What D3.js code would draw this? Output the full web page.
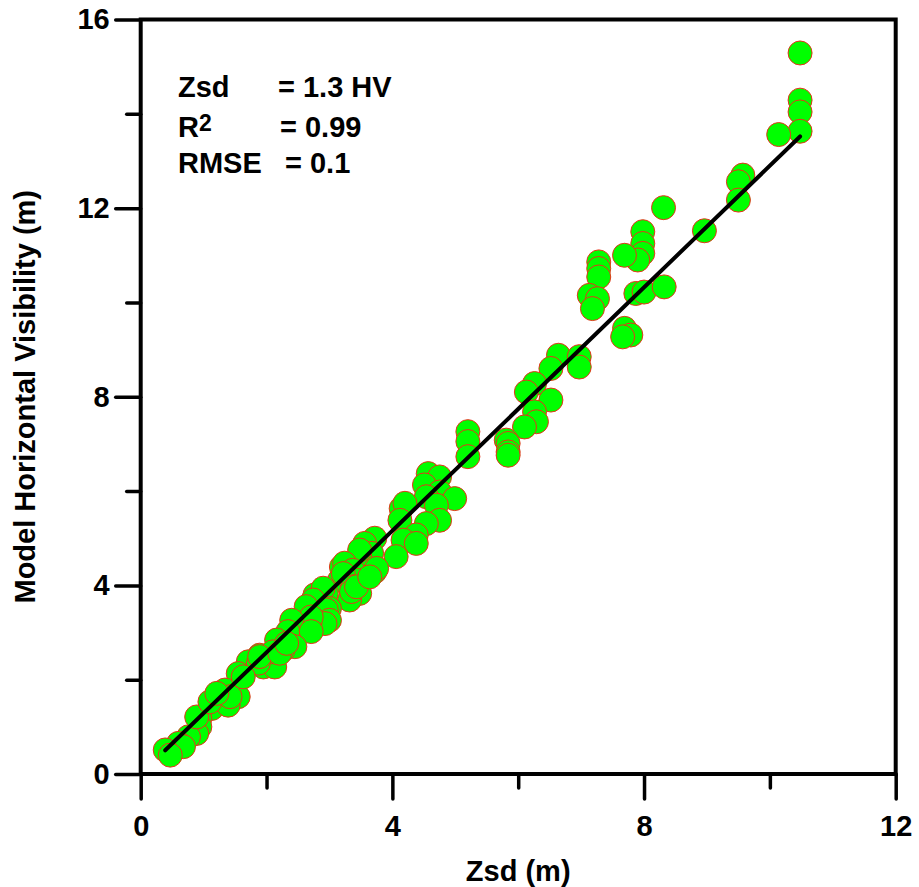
<!DOCTYPE html>
<html>
<head>
<meta charset="utf-8">
<script src="https://cdn.jsdelivr.net/npm/d3@7"></script>
<style>
  html, body { margin: 0; padding: 0; background: #fff; }
  svg { display: block; font-family: "Liberation Sans", Arial, sans-serif; }
</style>
</head>
<body>
<svg id="chart" width="919" height="887"></svg>
<script>
// Measured Secchi depth (Zsd, m) against modelled horizontal visibility (m)
const zsd = [
  10.48, 10.48, 10.48, 10.48, 10.14, 9.57, 9.50, 9.50, 8.96, 8.31,
  7.98, 7.98, 7.98, 7.90, 7.69, 7.28, 7.28, 7.28, 7.13, 7.26,
  7.18, 7.87, 8.00, 8.32, 7.69, 7.79, 7.66, 6.64, 6.97, 6.97,
  6.52, 6.26, 6.13, 6.52, 6.26, 6.29, 6.10, 5.81, 5.84, 5.84,
  5.84, 5.20, 5.20, 5.20,
  4.57, 4.75, 4.51, 4.75, 4.99, 4.54, 4.70, 4.75, 4.54, 4.14,
  4.20, 4.12, 4.38, 4.17, 4.38, 3.72, 3.56, 3.67, 3.48, 3.48,
  4.06, 3.19, 3.24, 3.37, 3.72, 3.75, 3.35, 3.16, 3.43, 3.22,
  3.48, 3.32, 3.37, 3.35, 2.95, 2.77, 2.90, 2.74, 2.63, 3.00,
  2.95, 3.00, 2.93, 2.69, 2.71, 2.40, 2.34, 2.71, 2.16, 2.45,
  2.26, 1.89, 1.95, 1.71, 1.55, 2.13, 2.10, 1.87, 1.34, 1.55,
  1.21, 1.13, 1.39, 0.94, 0.94, 0.89, 0.76, 0.60, 0.68, 0.39,
  0.47, 0.89, 1.10, 1.42, 1.21, 1.63, 1.89, 2.21, 2.32, 3.43,
  3.64
];
const hv = [
  15.29, 14.29, 14.04, 13.63, 13.56, 12.70, 12.56, 12.17, 11.52, 12.01,
  11.50, 11.25, 11.04, 10.90, 11.00, 10.86, 10.72, 10.54, 10.15, 10.08,
  9.87, 10.19, 10.22, 10.33, 9.45, 9.31, 9.27, 8.88, 8.85, 8.63,
  8.60, 8.28, 8.10, 7.93, 7.68, 7.47, 7.36, 7.08, 7.01, 6.83,
  6.76, 7.26, 7.05, 6.73,
  6.37, 6.30, 6.13, 5.98, 5.84, 5.88, 5.70, 5.38, 5.31, 5.63,
  5.74, 5.38, 5.07, 4.96, 4.89, 5.00, 4.89, 4.68, 4.61, 4.75,
  4.61, 4.39, 4.47, 4.32, 4.29, 4.36, 4.04, 4.11, 4.11, 4.25,
  3.83, 3.69, 3.97, 3.87, 3.83, 3.80, 3.94, 3.69, 3.55, 3.51,
  3.48, 3.26, 3.19, 3.19, 3.33, 3.26, 3.02, 3.02, 2.84, 2.70,
  2.63, 2.52, 2.27, 2.38, 2.13, 2.27, 2.59, 2.35, 1.78, 1.64,
  1.53, 1.39, 1.46, 1.18, 1.00, 0.86, 0.79, 0.65, 0.58, 0.51,
  0.40, 1.21, 1.53, 1.64, 1.71, 2.06, 2.49, 2.56, 2.77, 3.97,
  4.18
];

// Axis ticks and fit statistics
const xMajorTicks = [0, 4, 8, 12];
const xMinorTicks = [2, 6, 10];
const yMajorTicks = [0, 4, 8, 12, 16];
const yMinorTicks = [2, 6, 10, 14];
const fitSlope = 1.29;
const statLabels = ["Zsd", "R", "RMSE"];
const statValues = ["= 1.3 HV", "= 0.99", "= 0.1"];

const svg = d3.select("#chart");
const plotLeft = 140.7, plotRight = 895.7, plotTop = 19.5, plotBottom = 774;

const x = d3.scaleLinear().domain([0, 12]).range([plotLeft, plotRight]);
const y = d3.scaleLinear().domain([0, 16]).range([plotBottom, plotTop]);

// Scatter points
const points = zsd.map((v, i) => ({ x: v, y: hv[i] }));
svg.append("g")
  .selectAll("circle")
  .data(points)
  .join("circle")
  .attr("cx", d => x(d.x))
  .attr("cy", d => y(d.y))
  .attr("r", 12)
  .attr("fill", "#00ff00")
  .attr("stroke", "#e8321a")
  .attr("stroke-width", 1);

// Regression line through the origin
const [xMin, xMax] = d3.extent(zsd);
svg.append("path")
  .datum([xMin, xMax])
  .attr("d", d3.line().x(d => x(d)).y(d => y(fitSlope * d)))
  .attr("stroke", "#000")
  .attr("stroke-width", 4)
  .attr("stroke-linecap", "round")
  .attr("fill", "none");

// Axes: major and minor ticks on the bottom and left
function axisGroup(gen, transform) {
  const g = svg.append("g").attr("transform", transform).call(gen);
  g.select(".domain").remove();
  g.selectAll(".tick line").attr("stroke", "#000").attr("stroke-width", 3.5).attr("stroke-linecap", "round");
  return g;
}
const xAxis = axisGroup(d3.axisBottom(x).tickValues(xMajorTicks).tickSize(25).tickPadding(16).tickFormat(d3.format("d")), `translate(0,${plotBottom})`);
xAxis.selectAll("text").attr("font-size", 29).attr("font-weight", "bold").attr("fill", "#000");
axisGroup(d3.axisBottom(x).tickValues(xMinorTicks).tickSize(14).tickFormat(""), `translate(0,${plotBottom})`);

const yAxis = axisGroup(d3.axisLeft(y).tickValues(yMajorTicks).tickSize(25).tickPadding(6).tickFormat(d3.format("d")), `translate(${plotLeft},0)`);
yAxis.selectAll("text").attr("font-size", 29).attr("font-weight", "bold").attr("fill", "#000");
axisGroup(d3.axisLeft(y).tickValues(yMinorTicks).tickSize(14).tickFormat(""), `translate(${plotLeft},0)`);

// Frame around the plotting area
svg.append("rect")
  .attr("x", plotLeft).attr("y", plotTop)
  .attr("width", plotRight - plotLeft).attr("height", plotBottom - plotTop)
  .attr("fill", "none").attr("stroke", "#000").attr("stroke-width", 4);

// Axis titles
svg.append("text")
  .attr("x", (plotLeft + plotRight) / 2).attr("y", 881)
  .attr("text-anchor", "middle").attr("font-size", 29).attr("font-weight", "bold")
  .text("Zsd (m)");
svg.append("text")
  .attr("transform", `translate(35,${(plotTop + plotBottom) / 2}) rotate(-90)`)
  .attr("text-anchor", "middle").attr("font-size", 29).attr("font-weight", "bold")
  .text("Model Horizontal Visibility (m)");

// Fit statistics
const statY = [96.7, 137.3, 173.3];
const statValueX = [278, 280, 285];
const stats = svg.append("g").attr("font-size", 29).attr("font-weight", "bold");
statLabels.forEach((lab, i) => {
  const t = stats.append("text").attr("x", 178).attr("y", statY[i]).text(lab);
  if (lab === "R") {
    t.append("tspan").attr("font-size", 23).attr("dy", -6).text("2");
  }
  stats.append("text").attr("x", statValueX[i]).attr("y", statY[i]).text(statValues[i]);
});
</script>
</body>
</html>
